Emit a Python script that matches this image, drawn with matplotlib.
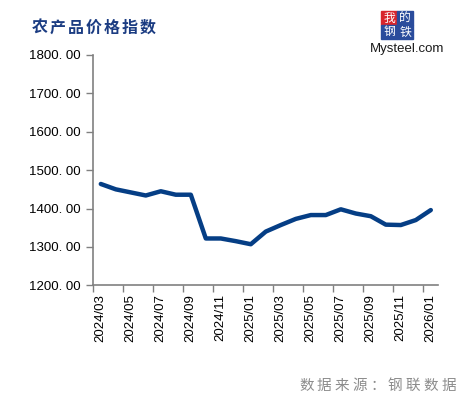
import matplotlib
matplotlib.use("Agg")
import matplotlib.pyplot as plt
from matplotlib.patches import Rectangle

plt.rcParams['font.family'] = ['Liberation Sans', 'Noto Sans CJK SC', 'DejaVu Sans']

months = ["2024/03", "2024/04", "2024/05", "2024/06", "2024/07", "2024/08", "2024/09",
          "2024/10", "2024/11", "2024/12", "2025/01", "2025/02", "2025/03", "2025/04",
          "2025/05", "2025/06", "2025/07", "2025/08", "2025/09", "2025/10", "2025/11",
          "2025/12", "2026/01"]
values = [1464, 1450, 1442, 1434, 1445, 1436, 1436, 1322, 1322, 1315, 1307, 1340,
          1357, 1373, 1383, 1383, 1398, 1387, 1380, 1358, 1357, 1370, 1396]
y_ticks = [1200, 1300, 1400, 1500, 1600, 1700, 1800]
title = "农产品价格指数"
source = "数据来源：钢联数据"

W, H = 465, 397
fig = plt.figure(figsize=(W / 100, H / 100), dpi=100)
ax = fig.add_axes([93.3 / W, 1 - 285.3 / H, 345 / W, 230.3 / H])

x = list(range(len(months)))
ax.plot(x, values, color="#053E85", linewidth=3.2, solid_joinstyle="round", solid_capstyle="round")

ax.set_xlim(-0.5, len(months) - 0.5)
ax.set_ylim(1200, 1800)
ax.set_yticks(y_ticks)
ax.set_yticklabels([f"{v}. 00" for v in y_ticks], fontsize=9.5, color="#000000")

label_pos = x[::2]
ax.set_xticks(label_pos)
ax.set_xticklabels([months[i] for i in label_pos], rotation=90, fontsize=9.5)
ax.tick_params(axis="x", length=0, pad=6)
ax.set_xticks([p - 0.5 for p in label_pos], minor=True)
ax.tick_params(axis="x", which="minor", length=5, direction="out", color="#808080", width=1)
ax.tick_params(axis="y", length=5, direction="out", color="#808080", width=1, pad=4)

for s in ["top", "right"]:
    ax.spines[s].set_visible(False)
for s in ["left", "bottom"]:
    ax.spines[s].set_color("#808080")
    ax.spines[s].set_linewidth(1.2)

# title, letter-spaced
for i, ch in enumerate(title):
    fig.text((32 + i * 18) / W, 1 - 28 / H, ch, fontsize=11.5, fontweight="bold", color="#1B3C82",
             family=["Noto Sans CJK SC"], va="center", ha="left")
# source, letter-spaced
for i, ch in enumerate(source):
    fig.text((299 + i * 17.8) / W, 1 - 386 / H, ch, fontsize=10.5, color="#8C8C8C",
             family=["Noto Sans CJK SC"], va="center", ha="left")

# logo
boxes = [(381, 11, "#D8262C", "我"), (397, 11, "#2A4C9C", "的"),
         (381, 25, "#2A4C9C", "钢"), (397, 25, "#2A4C9C", "铁")]
for bx, by, c, ch in boxes:
    fig.patches.append(Rectangle((bx / W, 1 - (by + 14) / H), 16 / W, 14 / H,
                                 transform=fig.transFigure, color=c, zorder=5))
    fig.text((bx + 8) / W, 1 - (by + 7) / H, ch, fontsize=8.5, color="white",
             family=["Noto Sans CJK SC"], ha="center", va="center", zorder=6)
fig.text(407 / W, 1 - 49 / H, "Mysteel.com", fontsize=9.5, color="#1a1a1a",
         ha="center", va="center", zorder=6)

fig.savefig("out.png", dpi=100, facecolor="white")
